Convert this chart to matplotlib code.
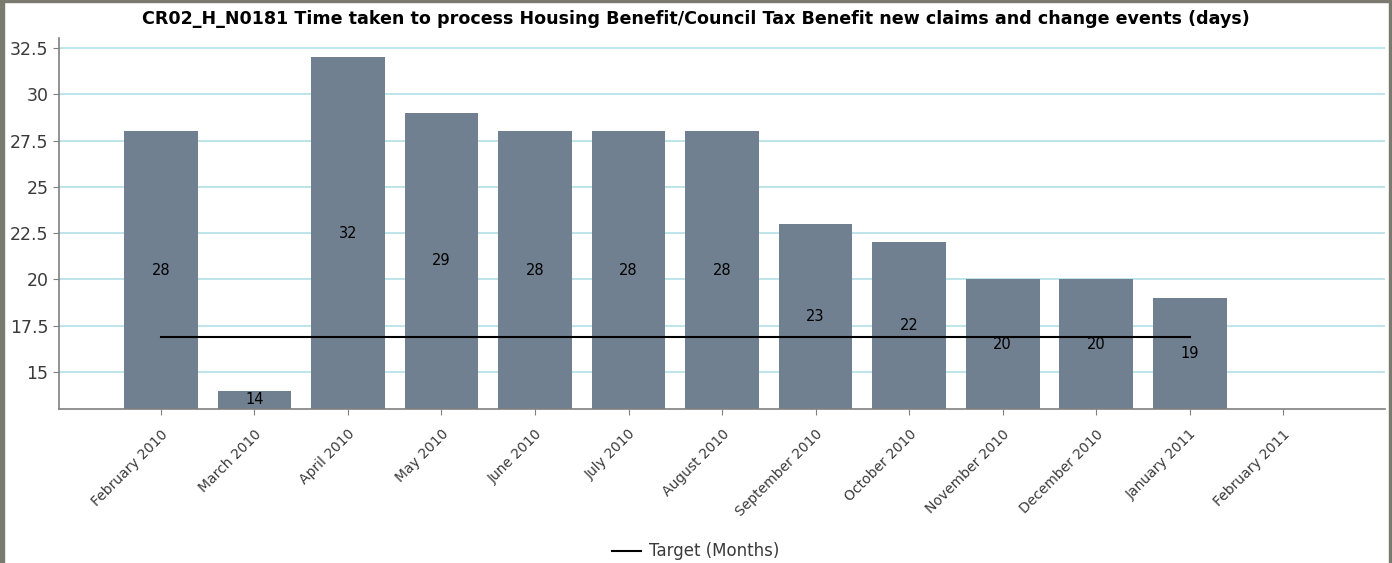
import matplotlib.pyplot as plt
import numpy as np

months = ['February 2010', 'March 2010', 'April 2010', 'May 2010', 'June 2010',
          'July 2010', 'August 2010', 'September 2010', 'October 2010',
          'November 2010', 'December 2010', 'January 2011', 'February 2011']
days = [28, 14, 32, 29, 28, 28, 28, 23, 22, 20, 20, 19, np.nan]
target = [16.9] * 12 + [np.nan]

fig = plt.figure(figsize=(13.92, 5.63), dpi=100)
ax = fig.add_axes([0.0424, 0.2735, 0.9526, 0.659])

x = np.arange(len(months))
ymin, ymax = 13, 33.05
ax.bar(x, days, width=0.79, color='#708090', zorder=2)
ax.plot(x, target, color='black', lw=1.5, zorder=3, label='Target (Months)')

for i, v in enumerate(days):
    if not np.isnan(v):
        ax.text(i, (ymin + v) / 2, str(int(v)), ha='center', va='center',
                fontsize=10.5, color='black', zorder=4)

ax.set_ylim(ymin, ymax)
ax.set_xlim(-1.09, 13.09)
ax.set_yticks([15, 17.5, 20, 22.5, 25, 27.5, 30, 32.5])
ax.set_yticklabels(['15', '17.5', '20', '22.5', '25', '27.5', '30', '32.5'])
ax.yaxis.grid(True, color='#b0e0e6', lw=1.2, zorder=0)
ax.set_axisbelow(True)
ax.set_xticks(x)
ax.set_xticklabels(months, rotation=45, ha='right', rotation_mode='anchor')
ax.tick_params(axis='both', colors='#808080', labelcolor='#3a3a3a')
ax.tick_params(axis='x', length=4, pad=9, labelsize=10)
ax.tick_params(axis='y', length=4, labelsize=12.5)
for s in ['top', 'right']:
    ax.spines[s].set_visible(False)
for s in ['left', 'bottom']:
    ax.spines[s].set_color('#808080')
    ax.spines[s].set_linewidth(1.2)

fig.text(0.5, 0.966,
         'CR02_H_N0181 Time taken to process Housing Benefit/Council Tax Benefit new claims and change events (days)',
         ha='center', va='center', fontsize=12.6, fontweight='bold')

fig.legend(loc='lower center', bbox_to_anchor=(0.5, -0.022), frameon=False,
           fontsize=12, handlelength=1.7, handletextpad=0.5, labelcolor='#3a3a3a')

# outer frame
fig.patches.append(plt.Rectangle((0, 0), 0.003, 1, transform=fig.transFigure,
                                 color='#7a7a6e', zorder=10))
fig.patches.append(plt.Rectangle((0.9975, 0), 0.0025, 1, transform=fig.transFigure,
                                 color='#7a7a6e', zorder=10))
fig.patches.append(plt.Rectangle((0, 0.996), 1, 0.004, transform=fig.transFigure,
                                 color='#7a7a6e', zorder=10))

fig.savefig('out.png', dpi=100)
